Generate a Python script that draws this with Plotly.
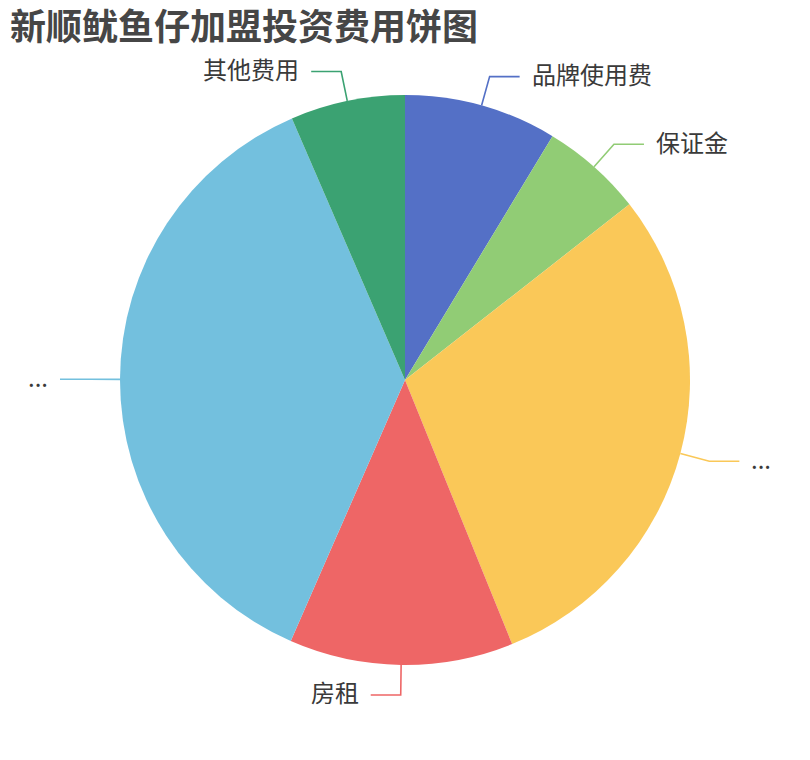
"""新顺鱿鱼仔加盟投资费用饼图 - pie with outside labels and leader lines."""

import math

import plotly.graph_objects as go

# page body keeps its default 8px margin, so the figure is sized to fit the window
OFF = 8
W = 810 - OFF
H = 760 - OFF

# data
labels = ["品牌使用费", "保证金", "装修费用", "房租", "设备及首批物料", "其他费用"]
label_text = ["品牌使用费", "保证金", "...", "房租", "...", "其他费用"]
values = [3.0, 2.0, 10.2, 4.4, 12.8, 2.25]
colors = ["#5470c6", "#91cc75", "#fac858", "#ee6666", "#73c0de", "#3ba272"]

# geometry in window pixels
CX, CY, R = 405, 380, 285
LEN1, LEN2, GAP = 30, 30, 10
CJK = "Noto Sans CJK SC, Noto Sans, sans-serif"


def to_paper(px, py):
    return (px - OFF) / W, 1 - (py - OFF) / H


x_lo, y_hi = to_paper(CX - R, CY - R)
x_hi, y_lo = to_paper(CX + R, CY + R)

fig = go.Figure(
    go.Pie(
        labels=labels,
        values=values,
        marker=dict(colors=colors, line=dict(width=0)),
        sort=False,
        direction="clockwise",
        rotation=0,
        textinfo="none",
        hoverinfo="label+value+percent",
        domain=dict(x=[x_lo, x_hi], y=[y_lo, y_hi]),
        showlegend=False,
    )
)

total = sum(values)
start = 0.0
for text, value, color in zip(label_text, values, colors):
    mid = (start + value / 2) / total * 2 * math.pi
    start += value
    sx, sy = math.sin(mid), -math.cos(mid)
    x0, y0 = CX + R * sx, CY + R * sy
    x1, y1 = CX + (R + LEN1) * sx, CY + (R + LEN1) * sy
    side = 1 if sx >= 0 else -1
    x2 = x1 + side * LEN2
    pts = [to_paper(x0, y0), to_paper(x1, y1), to_paper(x2, y1)]
    path = "M {} {} L {} {} L {} {}".format(*[c for p in pts for c in p])
    fig.add_shape(
        type="path", path=path, xref="paper", yref="paper",
        line=dict(color=color, width=1.6),
    )
    tx, ty = to_paper(x2 + side * GAP, y1)
    fig.add_annotation(
        x=tx, y=ty, xref="paper", yref="paper", text=text, showarrow=False,
        xanchor="left" if side > 0 else "right", yanchor="middle", yshift=3,
        font=dict(family=CJK, size=24, color="#3a3a3a"),
    )

tx, ty = to_paper(10, 27)
fig.update_layout(
    width=W,
    height=H,
    margin=dict(l=0, r=0, t=0, b=0),
    paper_bgcolor="white",
    plot_bgcolor="white",
    title=dict(
        text="<b>新顺鱿鱼仔加盟投资费用饼图</b>",
        x=tx, xanchor="left", y=ty, yanchor="middle",
        font=dict(family=CJK, size=36, color="#464646"),
    ),
)

fig.write_html("out.html")
